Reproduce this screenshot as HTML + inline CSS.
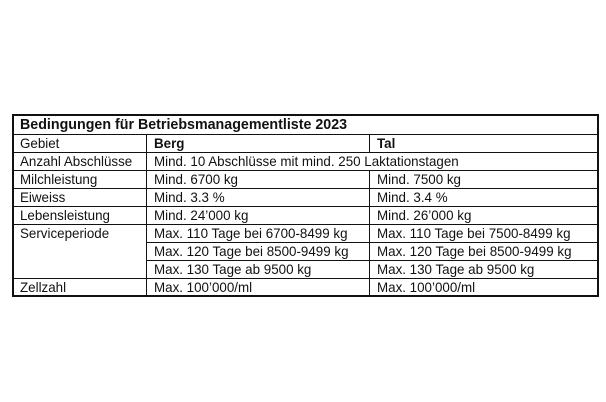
<!DOCTYPE html>
<html><head><meta charset="utf-8"><style>
body{margin:0;background:#fff;width:606px;height:402px;overflow:hidden;position:relative;font-family:"Liberation Sans",Arial,sans-serif;color:#111}
.t{position:absolute;font-size:14px;line-height:18px;white-space:nowrap;transform:scaleX(0.955);transform-origin:0 0}
.h{position:absolute;background:#111;height:1px}
.v{position:absolute;background:#111;width:1px}
</style></head><body>
<div class="h" style="left:12px;top:114px;width:587px;height:2px"></div>
<div class="h" style="left:12px;top:295px;width:587px;height:2px"></div>
<div class="v" style="left:12px;top:114px;height:183px;width:2px"></div>
<div class="v" style="left:597px;top:114px;height:183px;width:2px"></div>
<div class="h" style="left:12px;top:134px;width:587px"></div>
<div class="h" style="left:12px;top:152px;width:587px"></div>
<div class="h" style="left:12px;top:170px;width:587px"></div>
<div class="h" style="left:12px;top:188px;width:587px"></div>
<div class="h" style="left:12px;top:206px;width:587px"></div>
<div class="h" style="left:12px;top:224px;width:587px"></div>
<div class="h" style="left:146px;top:242px;width:453px"></div>
<div class="h" style="left:146px;top:260px;width:453px"></div>
<div class="h" style="left:12px;top:278px;width:587px"></div>
<div class="v" style="left:146px;top:134px;height:162px"></div>
<div class="v" style="left:369px;top:134px;height:18px"></div>
<div class="v" style="left:369px;top:170px;height:126px"></div>
<div class="t" style="left:20px;top:115px;font-weight:bold;font-size:15px;line-height:19px;transform:scaleX(0.95)">Bedingungen für Betriebsmanagementliste 2023</div>
<div class="t" style="left:20px;top:134px">Gebiet</div>
<div class="t" style="left:154px;top:134px;font-weight:bold">Berg</div>
<div class="t" style="left:377px;top:134px;font-weight:bold">Tal</div>
<div class="t" style="left:20px;top:152px">Anzahl Abschlüsse</div>
<div class="t" style="left:154px;top:152px">Mind. 10 Abschlüsse mit mind. 250 Laktationstagen</div>
<div class="t" style="left:20px;top:170px">Milchleistung</div>
<div class="t" style="left:154px;top:170px">Mind. 6700 kg</div>
<div class="t" style="left:377px;top:170px">Mind. 7500 kg</div>
<div class="t" style="left:20px;top:188px">Eiweiss</div>
<div class="t" style="left:154px;top:188px">Mind. 3.3 %</div>
<div class="t" style="left:377px;top:188px">Mind. 3.4 %</div>
<div class="t" style="left:20px;top:206px">Lebensleistung</div>
<div class="t" style="left:154px;top:206px">Mind. 24’000 kg</div>
<div class="t" style="left:377px;top:206px">Mind. 26’000 kg</div>
<div class="t" style="left:20px;top:224px">Serviceperiode</div>
<div class="t" style="left:154px;top:224px">Max. 110 Tage bei 6700-8499 kg</div>
<div class="t" style="left:377px;top:224px">Max. 110 Tage bei 7500-8499 kg</div>
<div class="t" style="left:154px;top:242px">Max. 120 Tage bei 8500-9499 kg</div>
<div class="t" style="left:377px;top:242px">Max. 120 Tage bei 8500-9499 kg</div>
<div class="t" style="left:154px;top:260px">Max. 130 Tage ab 9500 kg</div>
<div class="t" style="left:377px;top:260px">Max. 130 Tage ab 9500 kg</div>
<div class="t" style="left:20px;top:278px">Zellzahl</div>
<div class="t" style="left:154px;top:278px">Max. 100’000/ml</div>
<div class="t" style="left:377px;top:278px">Max. 100’000/ml</div>
</body></html>
